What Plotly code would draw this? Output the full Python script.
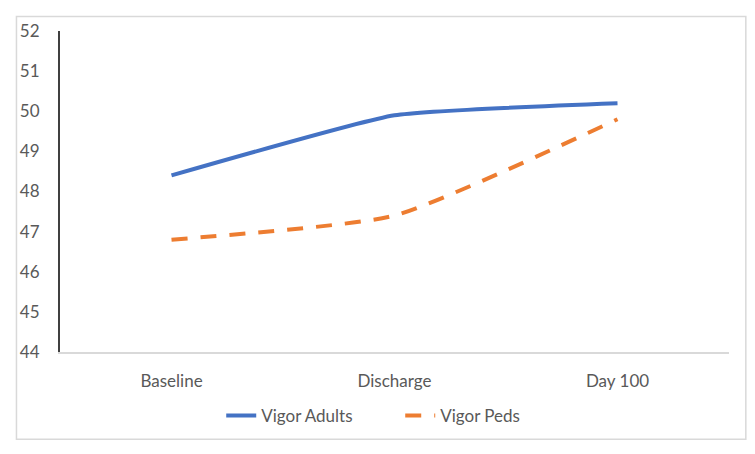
import plotly.graph_objects as go

# Vigor scores by timepoint
timepoints = ["Baseline", "Discharge", "Day 100"]
vigor_adults = [48.4, 49.9, 50.2]
vigor_peds = [46.8, 47.4, 49.8]
y_ticks = [44, 45, 46, 47, 48, 49, 50, 51, 52]

TEXT_GREY = "#595959"
FONT = "Lato"
FS = 17

# the page body adds an 8px margin, so keep the figure inside the window
W, H = 739, 438
L, R, T, B = 45, 18, 16, 91

fig = go.Figure()

fig.add_trace(go.Scatter(
    x=timepoints, y=vigor_adults, name="Vigor Adults", mode="lines",
    line=dict(color="#4472C4", width=4, shape="spline", smoothing=0.4),
))
fig.add_trace(go.Scatter(
    x=timepoints, y=vigor_peds, name="Vigor Peds", mode="lines",
    line=dict(color="#ED7D31", width=4, dash="16px,13px", shape="spline", smoothing=0.5),
))

pw, ph = W - L - R, H - T - B
fig.update_layout(
    width=W, height=H,
    margin=dict(l=L, r=R, t=T, b=B),
    paper_bgcolor="white", plot_bgcolor="white",
    font=dict(family=FONT, size=FS, color=TEXT_GREY),
    showlegend=True,
    legend=dict(
        orientation="h", x=0.241, xanchor="left", y=-0.1994, yanchor="middle",
        font=dict(size=FS, color=TEXT_GREY), itemwidth=30, entrywidth=134,
    ),
    # light grey frame round the whole chart
    shapes=[dict(
        type="rect", xref="paper", yref="paper",
        x0=(1 - L) / pw, x1=(W - 1 - L) / pw,
        y0=-(H - 1 - T - ph) / ph, y1=1 + (T - 1) / ph,
        line=dict(color="#D9D9D9", width=1.5), fillcolor="rgba(0,0,0,0)", layer="below",
    )],
)

fig.update_xaxes(
    range=[-0.5, 2.5],
    showgrid=False, zeroline=False,
    showline=True, linecolor="#D9D9D9", linewidth=1.5,
    ticks="", ticklabelstandoff=13,
    tickfont=dict(size=FS, color=TEXT_GREY),
)
fig.update_yaxes(
    range=[44, 52], tickvals=y_ticks,
    showgrid=False, zeroline=False,
    showline=True, linecolor="#404040", linewidth=2,
    ticks="", ticklabelstandoff=15,
    tickfont=dict(size=FS, color=TEXT_GREY),
)

fig.write_html("out.html")
